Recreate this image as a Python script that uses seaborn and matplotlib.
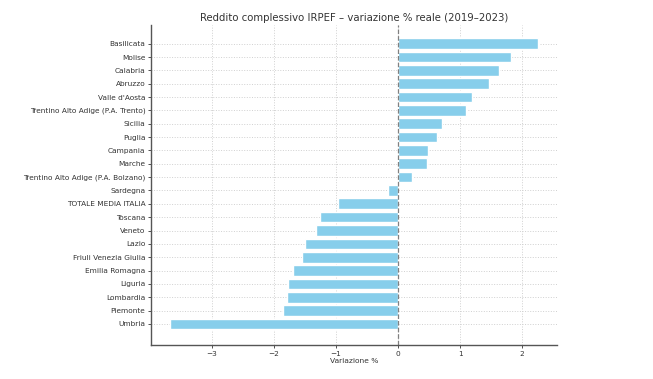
import matplotlib
matplotlib.use("Agg")
import matplotlib.pyplot as plt
import seaborn as sns
import pandas as pd

# dati
regioni = [
    "Basilicata", "Molise", "Calabria", "Abruzzo", "Valle d'Aosta",
    "Trentino Alto Adige (P.A. Trento)", "Sicilia", "Puglia", "Campania",
    "Marche", "Trentino Alto Adige (P.A. Bolzano)", "Sardegna",
    "TOTALE MEDIA ITALIA", "Toscana", "Veneto", "Lazio",
    "Friuli Venezia Giulia", "Emilia Romagna", "Liguria", "Lombardia",
    "Piemonte", "Umbria",
]
variazione = [
    2.26, 1.82, 1.62, 1.47, 1.19, 1.09, 0.71, 0.63, 0.48, 0.47, 0.22,
    -0.16, -0.97, -1.26, -1.33, -1.50, -1.55, -1.70, -1.77, -1.79,
    -1.85, -3.68,
]

df = pd.DataFrame({"regione": regioni, "var": variazione})

sns.set_style("whitegrid")
plt.rcParams['font.family'] = ['DejaVu Sans']

fig = plt.figure(figsize=(6.53, 3.79), dpi=100)
ax = fig.add_axes([151 / 653, 34 / 379, 406 / 653, 320 / 379])

sns.barplot(data=df, y="regione", x="var", orient="h", color="#87CEEB",
            saturation=1, width=0.8, ax=ax)

# linea dello zero
ax.axvline(0, color="gray", linestyle="--", linewidth=0.9)
ax.grid(True, linestyle=":", color="#d0d0d0", linewidth=0.7)
ax.set_axisbelow(True)

ax.set_xlim(-3.98, 2.56)
ax.set_ylim(21 + 1.58, -1.4)
ax.set_xticks([-3, -2, -1, 0, 1, 2])

for s in ["top", "right"]:
    ax.spines[s].set_visible(False)
for s in ["left", "bottom"]:
    ax.spines[s].set_color("#555555")
    ax.spines[s].set_linewidth(1.0)

ax.tick_params(axis="both", labelsize=5.35, colors="#333333", length=2.5,
               width=0.6, left=True, bottom=True, pad=1.5)
ax.set_ylabel("")
ax.set_xlabel("Variazione %", fontsize=5.4, color="#333333", labelpad=1)
ax.set_title("Reddito complessivo IRPEF – variazione % reale (2019–2023)",
             fontsize=7.3, color="#333333", pad=3)

fig.savefig("out.png", dpi=100)
